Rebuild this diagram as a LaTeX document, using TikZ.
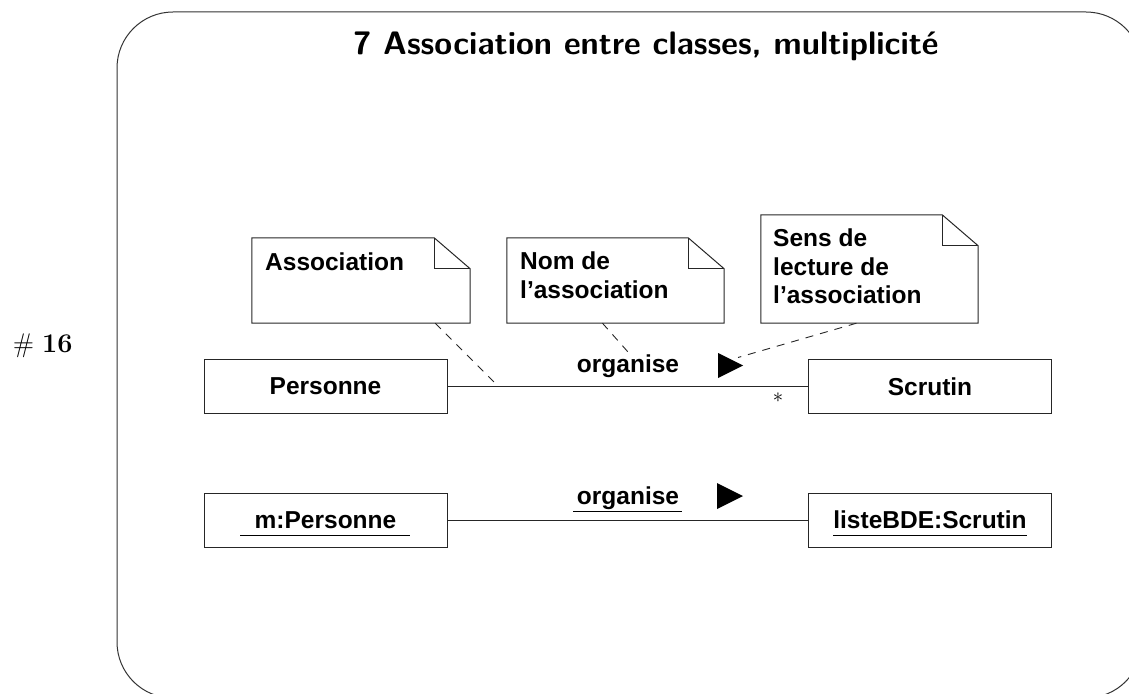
\documentclass[tikz,border=0pt]{standalone}
\usepackage{fontspec}
\newfontfamily\umlfont{Liberation Sans}
\usetikzlibrary{calc}

% folded-corner outline of a UML note node
\newcommand\umlnotefold[1]{%
  \draw[noteline] (#1.north west) -- ($(#1.north east)+(-36,0)$)
    -- ($(#1.north east)+(0,31)$) -- (#1.south east) -- (#1.south west) -- cycle;
  \draw[noteline] ($(#1.north east)+(-36,0)$) |- ($(#1.north east)+(0,31)$);
}

\begin{document}
\begin{tikzpicture}[x=1pt,y=-1pt,
  frame/.style={draw=black!80, line width=1pt, rounded corners=56pt},
  umltext/.style={font=\umlfont\bfseries\fontsize{24.5}{28.5}\selectfont},
  classbox/.style={umltext, draw=black!85, line width=1pt, inner sep=0pt,
    minimum width=243pt, minimum height=54pt},
  notebox/.style={draw=none, inner sep=0pt},
  noteline/.style={draw=black!85, line width=1pt},
  notetext/.style={umltext, align=left, anchor=north west, inner sep=0pt},
  assoc/.style={draw=black!85, line width=1pt},
  anchorline/.style={draw=black!85, line width=0.9pt, dash pattern=on 8pt off 7pt},
  uline/.style={draw=black, line width=1pt},
  readdir/.style={fill=black},
]
\useasboundingbox (0,0) rectangle (1129,693);

% slide frame, partly outside the page
\begin{scope}
  \clip (0,0) rectangle (1129,693);
  \draw[frame] (117,12) rectangle (1142,698);
\end{scope}

% title and slide number
\node[anchor=base, font=\sffamily\bfseries\fontsize{32.5}{40}\selectfont] (title)
  at (646,55) {7 Association entre classes, multiplicité};
\node[anchor=base west, inner sep=0pt, font=\fontsize{27}{32}\selectfont] (num)
  at (13,352) {$\#$\ \textbf{16}};

% classes
\node[classbox] (pers) at (325.5,386.5) {Personne};
\node[classbox] (scr) at (930,386.5) {Scrutin};
\draw[assoc] (pers.east) -- (scr.west);
\node[umltext, anchor=base, inner sep=0pt] (org1) at (628,372) {organise};
\fill[readdir] (718,353) -- (743,365.5) -- (718,378) -- cycle;
\coordinate (dir1) at (738,357.5);
\node[inner sep=0pt, font=\fontsize{22}{26}\selectfont] (mult) at (778,398) {$\ast$};

% notes
\node[notebox, minimum width=218pt, minimum height=85pt] (n1) at (361,280.5) {};
\umlnotefold{n1}
\node[notetext] (t1) at (265,253) {Association};

\node[notebox, minimum width=217pt, minimum height=85pt] (n2) at (615.5,280.5) {};
\umlnotefold{n2}
\node[notetext] (t2) at (520,252) {Nom de\\l’association};

\node[notebox, minimum width=217pt, minimum height=108pt] (n3) at (869.5,269) {};
\umlnotefold{n3}
\node[notetext] (t3) at (773,229) {Sens de\\lecture de\\l’association};

% note anchors
\coordinate (a1) at (495,383);
\coordinate (a2) at (628,352);
\draw[anchorline] ($(n1.south west)!0.84!(n1.south east)$) -- (a1);
\draw[anchorline] ($(n2.south west)!0.44!(n2.south east)$) -- (a2);
\draw[anchorline] ($(n3.south west)!0.44!(n3.south east)$) -- (dir1);

% objects
\node[classbox] (m) at (325.5,520) {m:Personne};
\node[classbox] (lb) at (930,520) {listeBDE:Scrutin};
\draw[assoc] (m.east) -- (lb.west);
\draw[uline] ($(m.center)+(-85.5,15)$) -- ($(m.center)+(84.5,15)$);
\draw[uline] ($(lb.center)+(-97,15)$) -- ($(lb.center)+(97,15)$);
\node[umltext, anchor=base, inner sep=0pt] (org2) at (628,504) {organise};
\draw[uline] (573,511) -- (682,511);
\fill[readdir] (717,483) -- (743,496) -- (717,509) -- cycle;
\end{tikzpicture}
\end{document}
